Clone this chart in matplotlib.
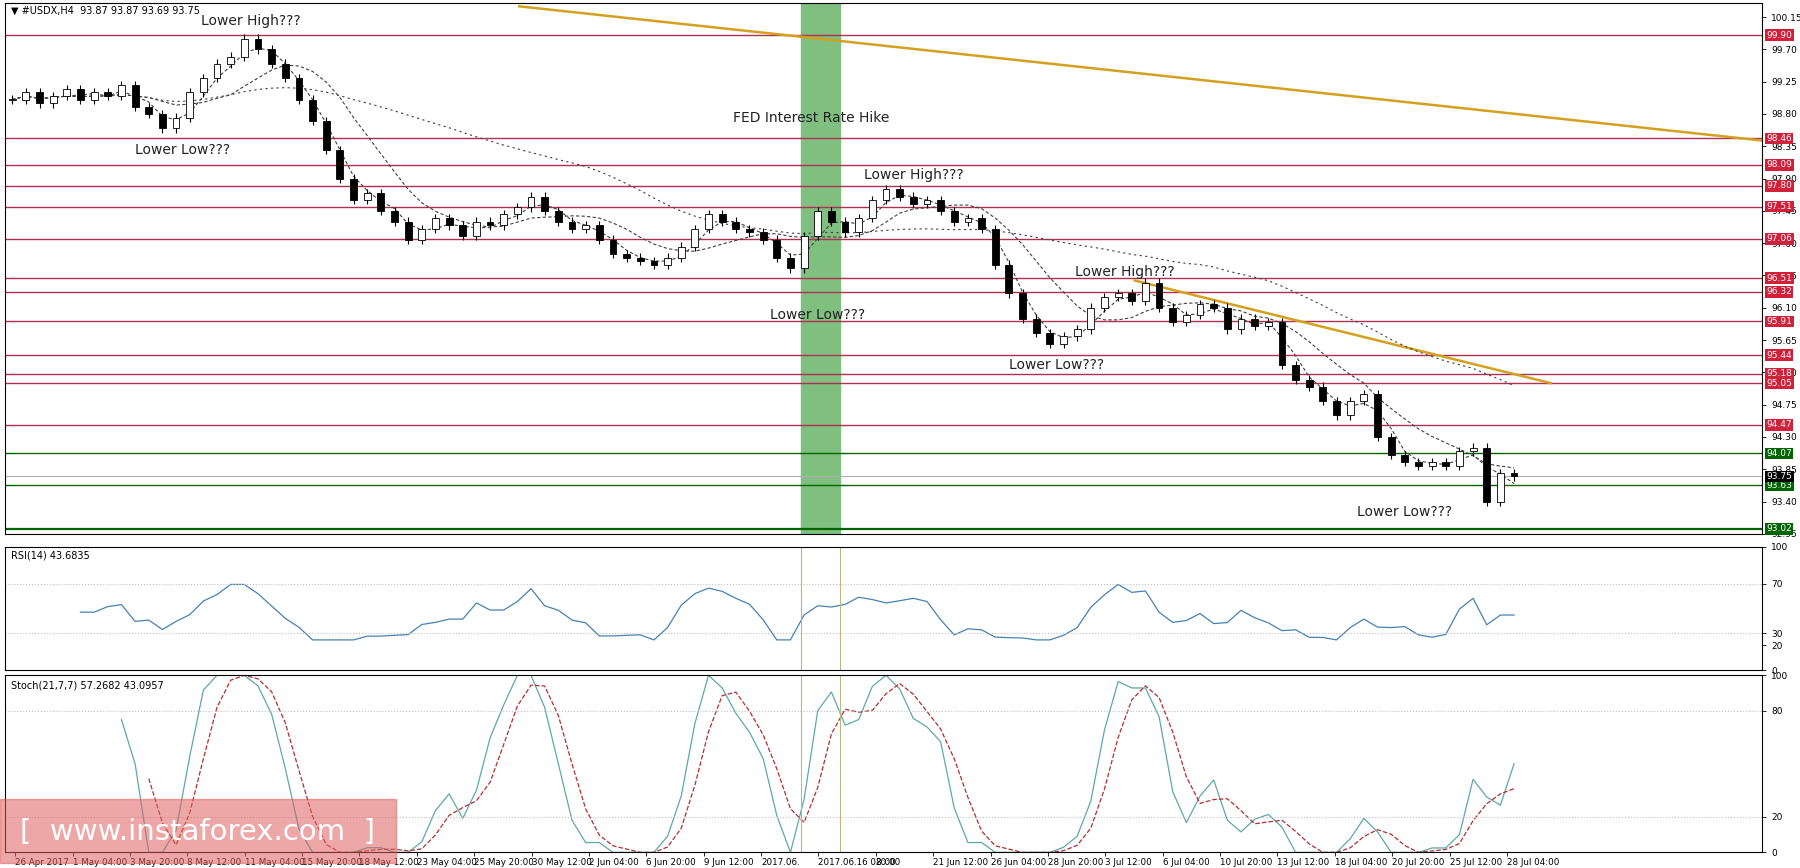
import numpy as np
import pandas as pd
import matplotlib
matplotlib.use('Agg')
import matplotlib.pyplot as plt
from matplotlib.patches import Rectangle

closes = [99.0, 99.1, 98.95, 99.05, 99.15, 99.0, 99.1, 99.05, 99.2, 98.9,
          98.8, 98.6, 98.75, 99.1, 99.3, 99.5, 99.6, 99.85, 99.7, 99.5,
          99.3, 99.0, 98.7, 98.3, 97.9, 97.6, 97.7, 97.45, 97.3, 97.05,
          97.2, 97.35, 97.25, 97.1, 97.3, 97.25, 97.4, 97.5, 97.65, 97.45,
          97.3, 97.2, 97.25, 97.05, 96.85, 96.8, 96.75, 96.7, 96.8, 96.95,
          97.2, 97.4, 97.3, 97.2, 97.15, 97.05, 96.8, 96.65, 97.1, 97.45,
          97.3, 97.15, 97.35, 97.6, 97.75, 97.65, 97.55, 97.6, 97.45, 97.3,
          97.35, 97.2, 96.7, 96.3, 95.95, 95.75, 95.6, 95.7, 95.8, 96.1,
          96.25, 96.3, 96.2, 96.45, 96.1, 95.9, 96.0, 96.15, 96.1, 95.8,
          95.95, 95.85, 95.9, 95.3, 95.1, 95.0, 94.8, 94.6, 94.8, 94.9,
          94.3, 94.05, 93.95, 93.9, 93.95, 93.9, 94.1, 94.15, 93.4, 93.8, 93.75]
red_levels = [99.90, 98.46, 98.09, 97.80, 97.51, 97.06, 96.51, 96.32, 95.91, 95.44, 95.18, 95.05, 94.47]
green_levels = [94.07, 93.63, 93.02]
price_ticks = [100.15, 99.70, 99.25, 98.80, 98.35, 97.90, 97.45, 97.00, 96.55, 96.10,
               95.65, 95.20, 94.75, 94.30, 93.85, 93.40, 92.95]
date_labels = ["26 Apr 2017", "1 May 04:00", "3 May 20:00", "8 May 12:00", "11 May 04:00",
               "15 May 20:00", "18 May 12:00", "23 May 04:00", "25 May 20:00", "30 May 12:00",
               "2 Jun 04:00", "6 Jun 20:00", "9 Jun 12:00", "2017.06.", "2017.06.16 08:00", "20:00",
               "21 Jun 12:00", "26 Jun 04:00", "28 Jun 20:00", "3 Jul 12:00", "6 Jul 04:00",
               "10 Jul 20:00", "13 Jul 12:00", "18 Jul 04:00", "20 Jul 20:00", "25 Jul 12:00",
               "28 Jul 04:00"]
notes = [("Lower High???", 17.5, 100.1), ("Lower Low???", 12.5, 98.3),
         ("FED Interest Rate Hike", 58.5, 98.75), ("Lower High???", 66, 97.95),
         ("Lower Low???", 59, 96.0), ("Lower High???", 81.5, 96.6),
         ("Lower Low???", 76.5, 95.3), ("Lower Low???", 102, 93.25)]

c = np.array(closes)
n = len(c)
o = np.r_[c[0], c[:-1]]
hi = np.maximum(o, c) + 0.06
lo = np.minimum(o, c) - 0.06
x = np.arange(n)
px = 1.0 / (1513 / (n - 1))  # bar units per pixel
xmax = 1763 * px
fx1, fx2 = 692 / 0.871 * px, 726 / 0.871 * px

fig = plt.figure(figsize=(18, 8.68), dpi=100)
ax = fig.add_axes([0.003, 0.385, 0.976, 0.611])
ar = fig.add_axes([0.003, 0.228, 0.976, 0.142])
ast = fig.add_axes([0.003, 0.018, 0.976, 0.204])

# price panel
ax.axvspan(fx1, fx2, color='#7fbf7f', zorder=0)
for lv in red_levels:
    ax.axhline(lv, color='#b03050', lw=1.0, zorder=1)
for lv in green_levels:
    ax.axhline(lv, color='#006400', lw=1.6 if lv == 93.02 else 1.0, zorder=1)
ax.axhline(93.75, color='#b0b0b0', lw=0.8, zorder=1)
ax.plot([445 / 0.871 * px, xmax], [100.3, 98.43], color='#d4a020', lw=1.8, zorder=2)
ax.plot([985 / 0.871 * px, 1350 / 0.871 * px], [96.48, 95.05], color='#d4a020', lw=1.8, zorder=2)
for w, ls in [(3, (0, (3, 2))), (8, (0, (3, 2))), (30, (0, (2, 3)))]:
    ma = pd.Series(c).rolling(w, min_periods=1).mean()
    ax.plot(x, ma, color='#404040', lw=0.8, ls=ls, zorder=2)
ax.vlines(x, lo, hi, color='black', lw=0.8, zorder=3)
for i in range(n):
    ax.add_patch(Rectangle((i - 0.25, min(o[i], c[i])), 0.5, max(abs(c[i] - o[i]), 0.01),
                           facecolor='white' if c[i] >= o[i] else 'black',
                           edgecolor='black', lw=0.6, zorder=4))
for t, xi, yi in notes:
    ax.text(xi, yi, t, fontsize=10, ha='center', va='center', color='#222222', zorder=5)
ax.set_ylim(92.98, 100.34)
ax.set_xlim(-0.5, xmax)
ax.text(0.003, 0.995, "▼ #USDX,H4  93.87 93.87 93.69 93.75", transform=ax.transAxes,
        fontsize=7, va='top')

def right_labels(a, lv, fc):
    a.annotate(f"{lv:.2f}", xy=(1.0, lv), xycoords=('axes fraction', 'data'),
               xytext=(3, 0), textcoords='offset points', fontsize=6.5, color='white',
               va='center', bbox=dict(boxstyle='square,pad=0.15', fc=fc, ec='none'))

ax.yaxis.tick_right()
ax.set_yticks(price_ticks)
ax.set_yticklabels([f"{t:.2f}" for t in price_ticks], fontsize=6.5)
for lv in red_levels:
    right_labels(ax, lv, '#d0203a')
for lv in green_levels:
    right_labels(ax, lv, '#006400')
right_labels(ax, 93.75, 'black')

# RSI
d = np.diff(c)
up = np.convolve(np.clip(d, 0, None), np.ones(5) / 5, mode='valid')
dn = np.convolve(np.clip(-d, 0, None), np.ones(5) / 5, mode='valid')
rsi = 100 - 100 / (1 + up / np.maximum(dn, 1e-6))
rsi = 30 + 0.45 * (rsi - 50) + 17
ar.plot(x[5:], rsi, color='#4682b4', lw=0.9)
for lv in (70, 30):
    ar.axhline(lv, color='#c0c0c0', ls=':', lw=0.8)
ar.set_ylim(0, 100)
ar.set_yticks([0, 20, 30, 70, 100])
ar.text(0.003, 0.97, "RSI(14) 43.6835", transform=ar.transAxes, fontsize=7, va='top')

# Stochastic
k = 8
kk = np.array([(c[i] - c[i - k + 1:i + 1].min()) / max(np.ptp(c[i - k + 1:i + 1]), 1e-6) * 100
               for i in range(k - 1, n)])
kk = np.convolve(kk, np.ones(2) / 2, mode='valid')
dd = np.convolve(kk, np.ones(3) / 3, mode='valid')
xs = x[k:]
ast.plot(xs, kk, color='#5fa8a8', lw=0.9)
ast.plot(xs[2:], dd, color='#b03030', lw=0.9, ls='--')
for lv in (80, 20):
    ast.axhline(lv, color='#c0c0c0', ls=':', lw=0.8)
ast.set_ylim(0, 100)
ast.set_yticks([0, 20, 80, 100])
ast.text(0.003, 0.97, "Stoch(21,7,7) 57.2682 43.0957", transform=ast.transAxes, fontsize=7, va='top')

for a in (ar, ast):
    a.axvline(fx1, color='#b8b880', lw=0.8)
    a.axvline(fx2, color='#b8b880', lw=0.8)
    a.yaxis.tick_right()
    a.tick_params(axis='y', labelsize=6.5)
    a.set_xlim(-0.5, xmax)
for a in (ax, ar, ast):
    a.tick_params(length=3, width=0.6)
    for s in a.spines.values():
        s.set_linewidth(0.8)
ax.set_xticks([])
ar.set_xticks([])
ticks = [(3 + 57.8 * i) * px for i in range(len(date_labels))]
ast.set_xticks(ticks)
ast.set_xticklabels(date_labels, fontsize=6.3, ha='left')
ast.tick_params(axis='x', pad=1)

# watermark
fig.patches.append(Rectangle((0, 0.006), 0.22, 0.073, transform=fig.transFigure,
                             color='#e06060', alpha=0.55, zorder=10))
fig.text(0.11, 0.042, "[  www.instaforex.com  ]", fontsize=21, color='white',
         ha='center', va='center', zorder=11)

fig.savefig('out.png', dpi=100)
